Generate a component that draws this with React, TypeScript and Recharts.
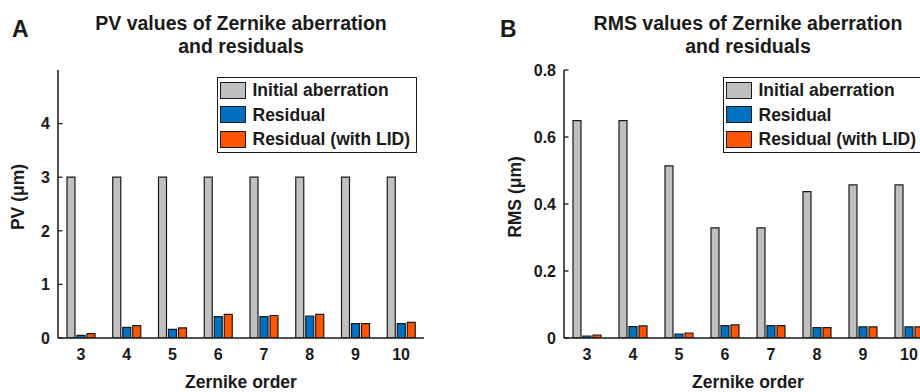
import React from 'react'
import { Bar, BarChart, Label, Legend, XAxis, YAxis } from 'recharts'

// Zernike orders on the x axis
const orders = ['3', '4', '5', '6', '7', '8', '9', '10']

// peak-to-valley values (µm)
const pvInitial = [3, 3, 3, 3, 3, 3, 3, 3]
const pvResidual = [0.05, 0.2, 0.16, 0.4, 0.4, 0.41, 0.27, 0.27]
const pvResidualLid = [0.08, 0.23, 0.19, 0.44, 0.42, 0.44, 0.27, 0.29]

// RMS values (µm)
const rmsInitial = [0.649, 0.649, 0.514, 0.329, 0.329, 0.437, 0.457, 0.457]
const rmsResidual = [0.006, 0.034, 0.012, 0.037, 0.037, 0.031, 0.033, 0.033]
const rmsResidualLid = [0.009, 0.036, 0.015, 0.039, 0.037, 0.031, 0.033, 0.033]

const pvTicks = [0, 1, 2, 3, 4]
const rmsTicks = [0, 0.2, 0.4, 0.6, 0.8]

const seriesNames = ['Initial aberration', 'Residual', 'Residual (with LID)']

const INK = '#1a1a1a'
const FONT = '"Liberation Sans", Arial, Helvetica, sans-serif'
const colors = ['#c0c0c0', '#0070c0', '#ff5500']

const buildRows = (a: number[], b: number[], c: number[]) =>
  orders.map((order, i) => ({ order, initial: a[i], residual: b[i], residualLid: c[i] }))

const pvData = buildRows(pvInitial, pvResidual, pvResidualLid)
const rmsData = buildRows(rmsInitial, rmsResidual, rmsResidualLid)

const fmtPv = (v: number) => String(v)
const fmtRms = (v: number) => (v === 0 ? '0' : v.toFixed(1))

// y tick: label left of the axis, short tick mark pointing into the plot
const makeYTick = (fmt: (v: number) => string) => (props: any) => {
  const { x, y, payload } = props
  return (
    <g>
      <line x1={x} x2={x + 4.5} y1={y} y2={y} stroke={INK} strokeWidth={1.3} />
      <text x={x - 8} y={y} dy="0.36em" textAnchor="end" fill={INK} fontSize={16} fontWeight="bold" fontFamily={FONT}>
        {fmt(payload.value)}
      </text>
    </g>
  )
}

const yTitle = (text: string, gap: number) => (props: any) => {
  const { x, y, width, height } = props.viewBox
  const cx = x + width - gap
  const cy = y + height / 2 - 7
  return (
    <text x={cx} y={cy} dy="0.36em" textAnchor="middle" transform={`rotate(-90 ${cx} ${cy})`}
      fill={INK} fontSize={17.5} fontWeight="bold" fontFamily={FONT}>
      {text}
    </text>
  )
}

const xTitle = (text: string) => (props: any) => {
  const { x, y, width, height } = props.viewBox
  return (
    <text x={x + width / 2} y={y + height - 4} textAnchor="middle" fill={INK} fontSize={17.5} fontWeight="bold" fontFamily={FONT}>
      {text}
    </text>
  )
}

const renderLegend = (props: any) => (
  <div style={{ border: `1.5px solid ${INK}`, background: '#fff', width: 200, height: 76, boxSizing: 'border-box', paddingLeft: 1.5 }}>
    {(props.payload || []).map((entry: any) => (
      <div key={entry.value} style={{ display: 'flex', alignItems: 'center', height: 24.5 }}>
        <span style={{ display: 'inline-block', width: 26, height: 17, background: entry.color, border: `1.5px solid ${INK}`, boxSizing: 'border-box', marginRight: 7 }} />
        <span style={{ fontFamily: FONT, fontWeight: 'bold', fontSize: 17.5, color: INK, whiteSpace: 'nowrap', lineHeight: '20px' }}>{entry.value}</span>
      </div>
    ))}
  </div>
)

type PanelProps = {
  letter: string
  title: string[]
  data: any[]
  ticks: number[]
  domain: [number, number]
  fmt: (v: number) => string
  yLabel: string
  yLabelGap: number
  left: number
  width: number
  axisWidth: number
  marginRight: number
}

function Panel(p: PanelProps) {
  const axisLine = { stroke: INK, strokeWidth: 1.5 }
  const plotWidth = p.width - p.axisWidth - p.marginRight
  const titleCenter = p.axisWidth + plotWidth / 2
  return (
    <div style={{ position: 'absolute', left: p.left, top: 0, width: p.width, height: 392 }}>
      <div style={{ position: 'absolute', left: p.letter === 'A' ? 12 : 40, top: 17.5, fontFamily: FONT, fontWeight: 'bold', fontSize: 23, lineHeight: '23px', color: INK }}>
        {p.letter}
      </div>
      <div style={{ position: 'absolute', left: titleCenter - 200, width: 400, top: 12.4, textAlign: 'center', fontFamily: FONT, fontWeight: 'bold', fontSize: 19.5, lineHeight: '23px', color: INK }}>
        {p.title.map(line => <div key={line}>{line}</div>)}
      </div>
      <BarChart width={p.width} height={392} data={p.data} barSize={8} barGap={2}
        margin={{ top: 70, right: p.marginRight, bottom: 0, left: 0 }}>
        <XAxis dataKey="order" interval={0} height={54} tickLine={false} tickSize={0} tickMargin={11}
          axisLine={axisLine} tick={{ fill: INK, fontSize: 16, fontWeight: 'bold', fontFamily: FONT }}>
          <Label content={xTitle('Zernike order')} />
        </XAxis>
        <XAxis xAxisId="top" dataKey="order" orientation="top" height={0} tick={false} tickLine={false} axisLine={axisLine} />
        <YAxis type="number" domain={p.domain} ticks={p.ticks} width={p.axisWidth} tickLine={false} tickSize={0} tickMargin={0}
          axisLine={axisLine} tick={makeYTick(p.fmt)} allowDataOverflow>
          <Label content={yTitle(p.yLabel, p.yLabelGap)} />
        </YAxis>
        <YAxis yAxisId="right" orientation="right" type="number" domain={p.domain} width={0} tick={false} tickLine={false} axisLine={axisLine} />
        <Legend content={renderLegend} layout="horizontal" verticalAlign="middle" align="center"
          wrapperStyle={{ left: p.axisWidth + 159, top: 77, width: 200, height: 76 }} />
        <Bar dataKey="initial" name={seriesNames[0]} fill={colors[0]} stroke={INK} strokeWidth={1.2} isAnimationActive={false} />
        <Bar dataKey="residual" name={seriesNames[1]} fill={colors[1]} stroke={INK} strokeWidth={1.2} isAnimationActive={false} />
        <Bar dataKey="residualLid" name={seriesNames[2]} fill={colors[2]} stroke={INK} strokeWidth={1.2} isAnimationActive={false} />
      </BarChart>
    </div>
  )
}

export default function App() {
  return (
    <div style={{ position: 'absolute', left: 0, top: 0, width: 920, height: 392, overflow: 'hidden', background: '#fff' }}>
      <Panel letter="A" title={['PV values of Zernike aberration', 'and residuals']} data={pvData}
        ticks={pvTicks} domain={[0, 5]} fmt={fmtPv} yLabel="PV (μm)" yLabelGap={40}
        left={0} width={460} axisWidth={58} marginRight={36} />
      <Panel letter="B" title={['RMS values of Zernike aberration', 'and residuals']} data={rmsData}
        ticks={rmsTicks} domain={[0, 0.8]} fmt={fmtRms} yLabel="RMS (μm)" yLabelGap={49}
        left={460} width={520} axisWidth={104} marginRight={48} />
    </div>
  )
}
